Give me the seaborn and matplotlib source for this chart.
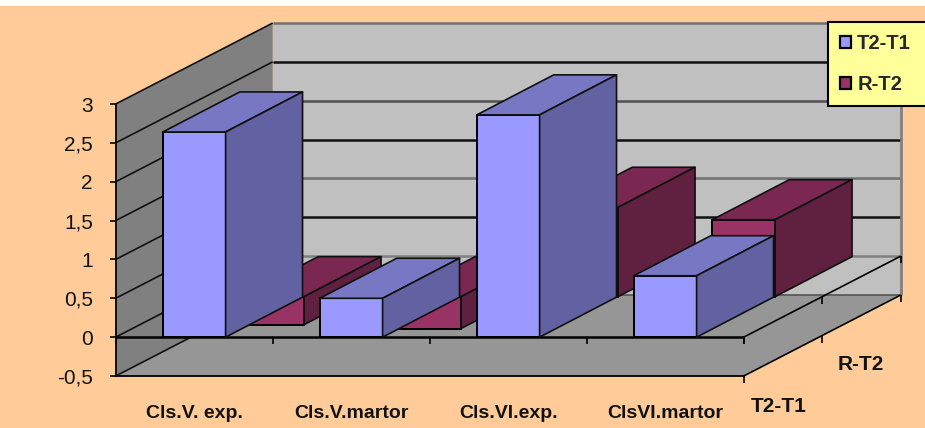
import numpy as np
import pandas as pd
import seaborn as sns
import matplotlib.pyplot as plt
from matplotlib.patches import Patch, Polygon, Rectangle

categories = ['Cls.V. exp.', 'Cls.V.martor', 'Cls.VI.exp.', 'ClsVI.martor']
t2_t1 = [2.64, 0.5, 2.86, 0.79]
r_t2 = [-0.36, -0.41, 1.15, 0.99]
series_names = ['T2-T1', 'R-T2']
y_ticks = [-0.5, 0, 0.5, 1, 1.5, 2, 2.5, 3]
y_labels = ['-0,5', '0', '0,5', '1', '1,5', '2', '2,5', '3']

W, H = 925, 428
# one series slot going back into the chart, in data units
DX, DY = 0.5, 0.521
BAR_DX, BAR_DY = 0.49, 0.515

colors = {'T2-T1': ('#9999ff', '#7777c4', '#6262a3'),
          'R-T2': ('#993366', '#7a2852', '#5f213f')}
grid_colors = ['#000000', '#808080', '#101010', '#707070', '#101010', '#505050', '#101010', '#707070']

df = pd.DataFrame({
    'cat': categories * 2,
    'val': t2_t1 + r_t2,
    'series': ['T2-T1'] * 4 + ['R-T2'] * 4,
})

sns.set_style('white')
plt.rcParams['font.family'] = ['Liberation Sans', 'DejaVu Sans']

fig = plt.figure(figsize=(W / 100, H / 100), dpi=100, facecolor='white')
fig.add_artist(Rectangle((0, 0), 1, 1 - 6 / H, transform=fig.transFigure, facecolor='#ffcc99', edgecolor='none', zorder=-1))
ax = fig.add_axes([115.7 / W, 1 - 376 / H, 628 / W, 272 / H])
ax.patch.set_alpha(0)

palette = {s: colors[s][0] for s in series_names}
sns.barplot(data=df, x='cat', y='val', hue='series', hue_order=series_names, palette=palette, dodge=False,
            width=0.4, saturation=1, edgecolor='black', linewidth=1.4, legend=False, ax=ax)

ax.set_xlim(-0.5, 3.5)
ax.set_ylim(-0.5, 3)
ax.set_xlabel('')
ax.set_ylabel('')
xl, xr = ax.get_xlim()
yb, yt = ax.get_ylim()
back_x, back_y = 2 * DX, 2 * DY


def poly(pts, color, z, edge='none', lw=0):
    ax.add_patch(Polygon(pts, closed=True, facecolor=color, edgecolor=edge, linewidth=lw, zorder=z, clip_on=False, joinstyle='round'))


def line(xs, ys, color='black', lw=1.3, z=0.5):
    ax.plot(xs, ys, color=color, lw=lw, zorder=z, clip_on=False, solid_capstyle='butt')


# walls and floor
poly([(xl + back_x, yb + back_y), (xr + back_x, yb + back_y), (xr + back_x, yt + back_y), (xl + back_x, yt + back_y)], '#c0c0c0', 0.1)
poly([(xl, yb), (xr, yb), (xr + back_x, yb + back_y), (xl + back_x, yb + back_y)], '#969696', 0.2)
poly([(xl, yb), (xl + back_x, yb + back_y), (xl + back_x, yt + back_y), (xl, yt)], '#808080', 0.3)

for v, c in zip(y_ticks, grid_colors):
    line([xl, xl + back_x], [v, v + back_y], color='#111111', lw=1.2)
    if v > yb:
        line([xl + back_x, xr + back_x], [v + back_y, v + back_y], color=c, lw=1.8)
line([xl + back_x, xr + back_x], [yb + back_y, yb + back_y], color='#555555', lw=1.2)
line([xr + back_x, xr + back_x], [yb + back_y, yt + back_y], color='#808080', lw=2)

# zero plane and floor edges
line([xl, xr], [0, 0], lw=1.8, z=0.6)
line([xr, xr + back_x], [0, back_y], lw=1.2, z=0.6)
line([xr, xr + back_x], [yb, yb + back_y], lw=1.2, z=0.6)

tick = 0.09
for b in np.arange(xl, xr + 0.5):
    line([b, b], [0, -tick], lw=1.2, z=0.6)
for k in range(3):
    for base in (0, yb):
        line([xr + k * DX] * 2, [base + k * DY, base + k * DY - tick], lw=1.2, z=0.6)

# side and top faces of the bars, taken from the bars seaborn made
for cont, name, shift, z in zip(ax.containers, series_names, [0, 1], [4, 3]):
    front, top, side = colors[name]
    for r in cont.patches:
        r.set_x(r.get_x() + shift * DX)
        r.set_y(r.get_y() + shift * DY)
        r.set_zorder(z)
        r.set_clip_on(False)
        x0, x1 = r.get_x(), r.get_x() + r.get_width()
        lo = min(r.get_y(), r.get_y() + r.get_height())
        hi = max(r.get_y(), r.get_y() + r.get_height())
        poly([(x0, hi), (x1, hi), (x1 + BAR_DX, hi + BAR_DY), (x0 + BAR_DX, hi + BAR_DY)], top, z, '#101010', 1.2)
        poly([(x1, lo), (x1 + BAR_DX, lo + BAR_DY), (x1 + BAR_DX, hi + BAR_DY), (x1, hi)], side, z, '#101010', 1.2)

ax.set_yticks(y_ticks, y_labels)
ax.tick_params(axis='y', length=4.5, width=1.2, color='black', pad=12, labelsize=15, labelcolor='#111111', left=True)
ax.tick_params(axis='x', length=0, pad=21, labelsize=14, labelcolor='#111111')
for t in ax.get_xticklabels():
    t.set_fontweight('bold')
sns.despine(ax=ax, top=True, right=True)
for s in ('left', 'bottom'):
    ax.spines[s].set_color('black')
    ax.spines[s].set_linewidth(1.3)
    ax.spines[s].set_zorder(0.7)

fig.text(861 / W, 1 - 365 / H, series_names[1], fontsize=15, fontweight='bold', color='#111111', ha='center', va='center')
fig.text(779 / W, 1 - 407 / H, series_names[0], fontsize=15, fontweight='bold', color='#111111', ha='center', va='center')

handles = [Patch(facecolor=colors[s][0], edgecolor='black', linewidth=1.6, label=s) for s in series_names]
leg = ax.legend(handles=handles, loc='upper left', bbox_to_anchor=(828 / W, 1 - 102 / H, 110 / W, 80 / H),
                bbox_transform=fig.transFigure, mode='expand', borderaxespad=0, frameon=True, fancybox=False,
                facecolor='#ffff99', edgecolor='black', framealpha=1, handlelength=0.55, handleheight=0.55,
                handletextpad=0.3, labelspacing=1.1, borderpad=0.6, prop={'size': 14.5, 'weight': 'bold'})
leg.get_frame().set_linewidth(1.5)
leg.set_zorder(10)

fig.savefig('out.png', dpi=100, facecolor=fig.get_facecolor())
